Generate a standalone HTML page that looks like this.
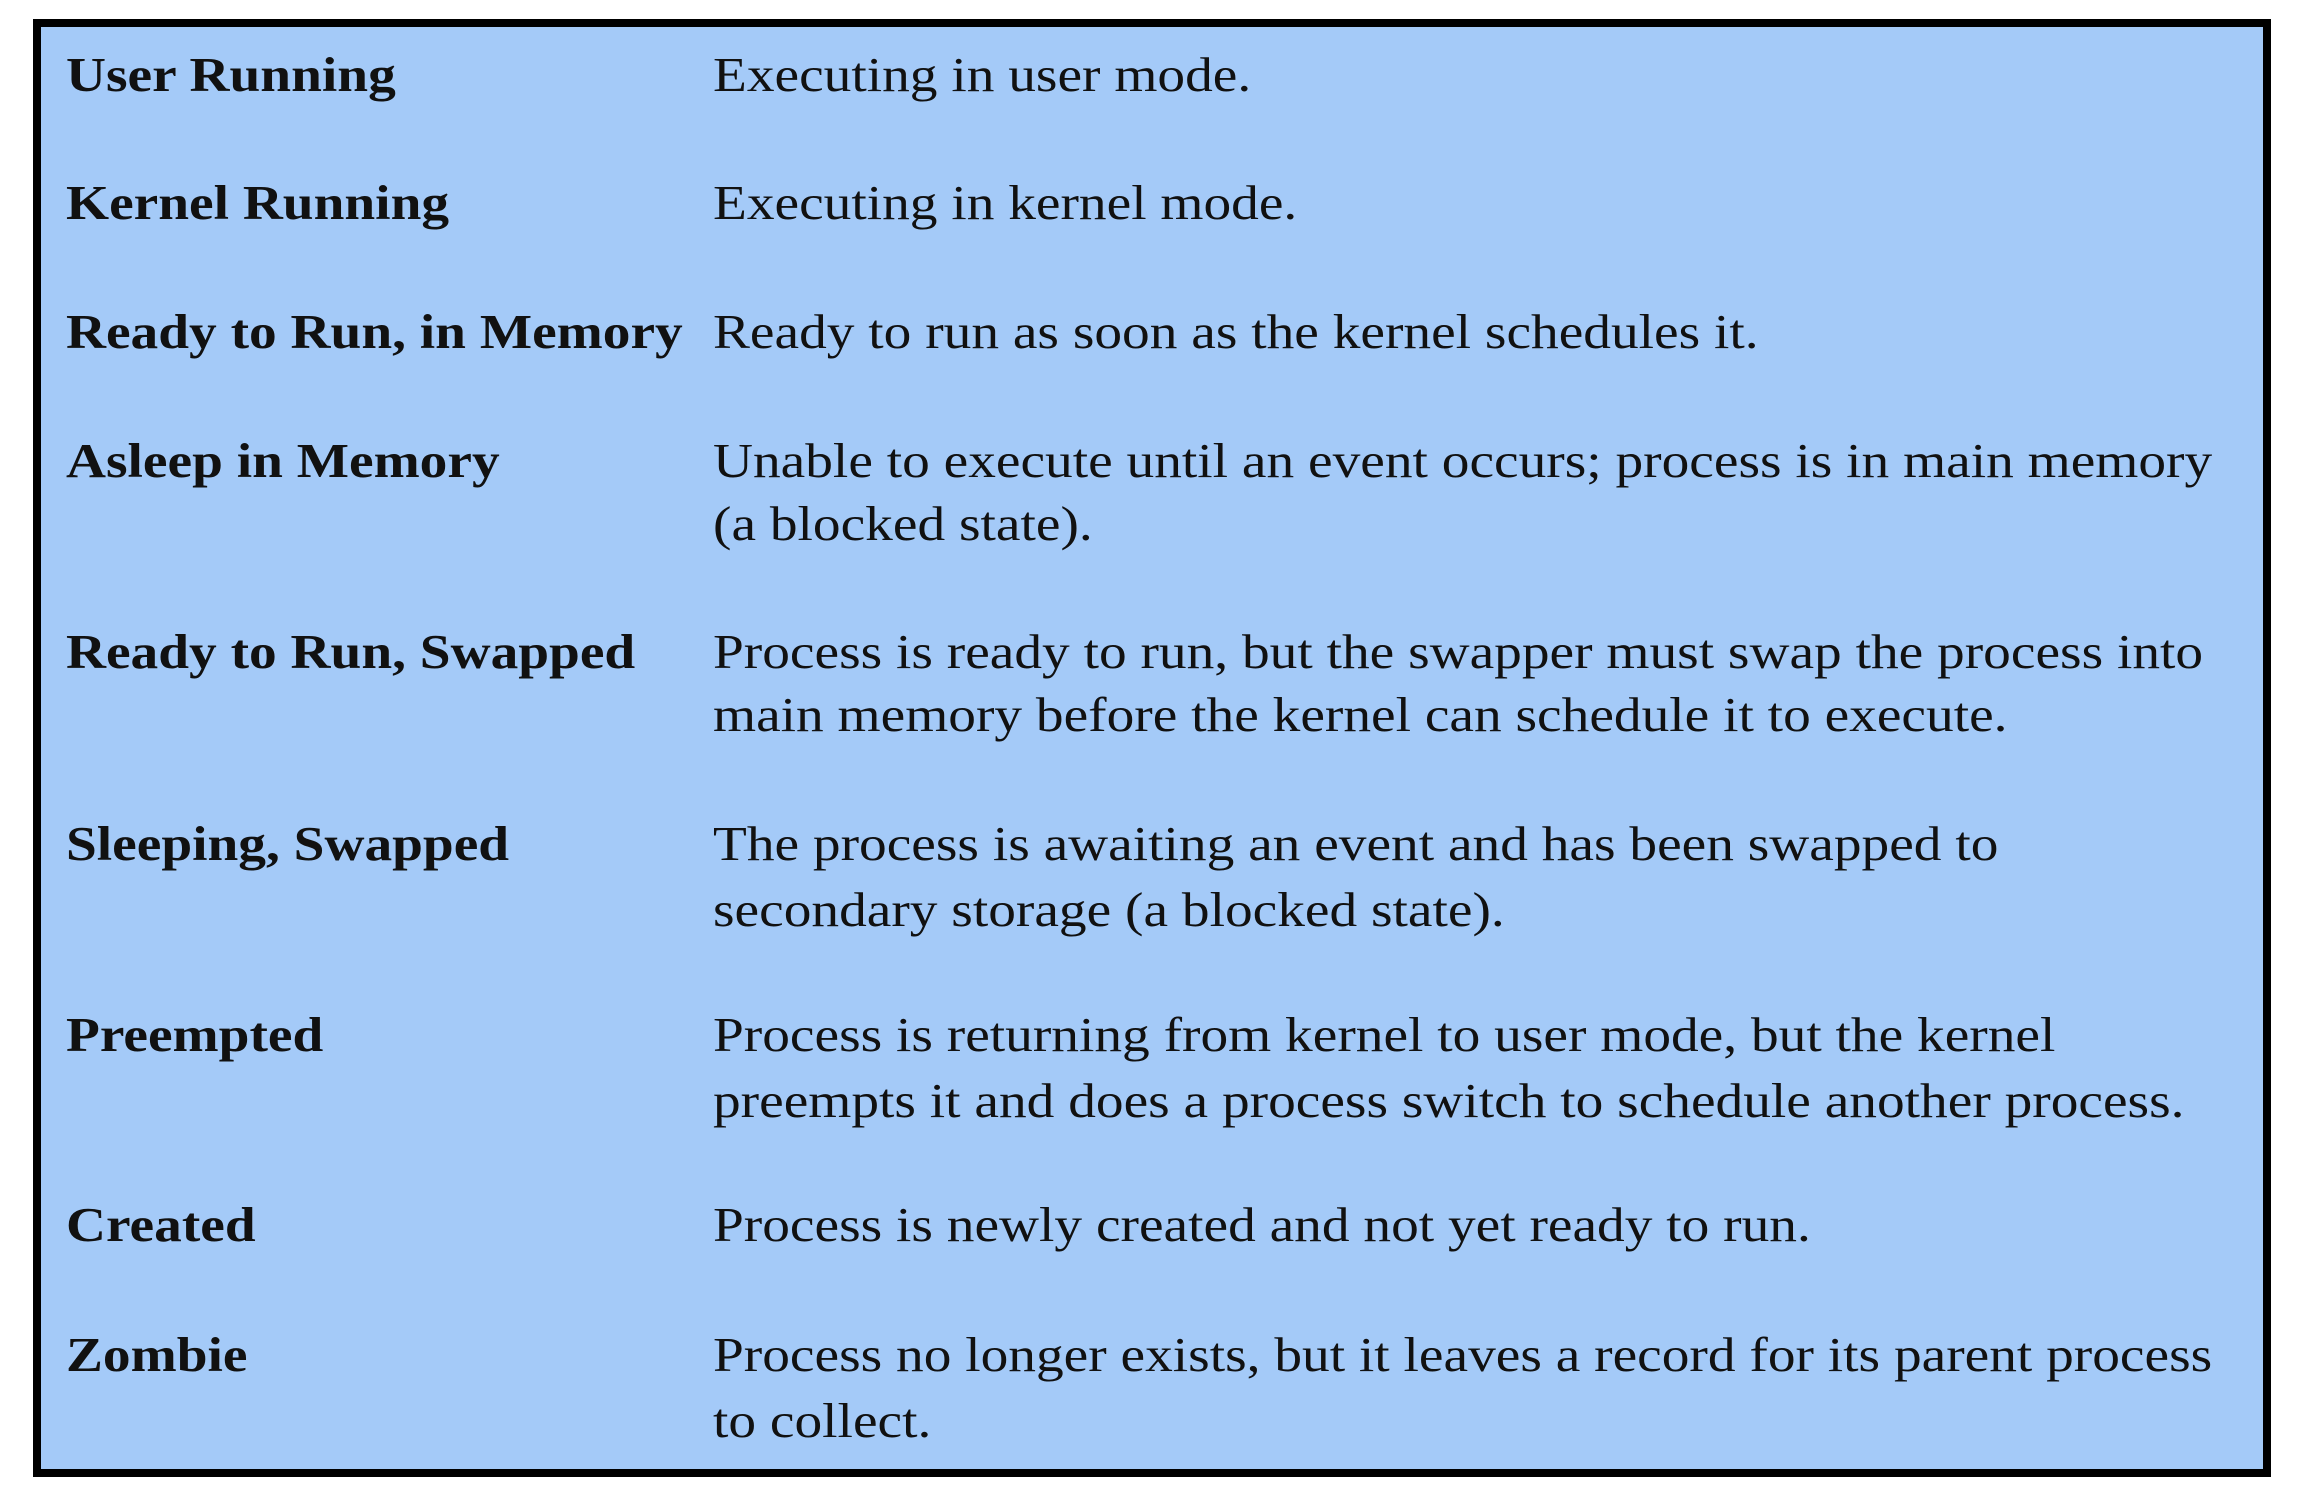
<!DOCTYPE html>
<html><head><meta charset="utf-8"><style>
html,body{margin:0;padding:0;background:#fff;width:2300px;height:1496px;overflow:hidden}
.box{position:absolute;left:33px;top:19px;width:2222px;height:1442px;border:8px solid #000;background:#a4caf8}
.t{position:absolute;font-family:"Liberation Serif",serif;font-size:49px;line-height:47px;color:#111;white-space:nowrap;transform:scaleX(1.13);transform-origin:0 0}
.b{font-weight:bold;left:66px}
.d{left:713px}
</style></head><body>
<div class="box"></div>
<div class="t b" style="top:51px">User Running</div>
<div class="t d" style="top:51px">Executing in user mode.</div>
<div class="t b" style="top:179px">Kernel Running</div>
<div class="t d" style="top:179px">Executing in kernel mode.</div>
<div class="t b" style="top:308px">Ready to Run, in Memory</div>
<div class="t d" style="top:308px">Ready to run as soon as the kernel schedules it.</div>
<div class="t b" style="top:437px">Asleep in Memory</div>
<div class="t d" style="top:437px">Unable to execute until an event occurs; process is in main memory</div>
<div class="t d" style="top:500px">(a blocked state).</div>
<div class="t b" style="top:628px">Ready to Run, Swapped</div>
<div class="t d" style="top:628px">Process is ready to run, but the swapper must swap the process into</div>
<div class="t d" style="top:691px">main memory before the kernel can schedule it to execute.</div>
<div class="t b" style="top:820px">Sleeping, Swapped</div>
<div class="t d" style="top:820px">The process is awaiting an event and has been swapped to</div>
<div class="t d" style="top:886px">secondary storage (a blocked state).</div>
<div class="t b" style="top:1011px">Preempted</div>
<div class="t d" style="top:1011px">Process is returning from kernel to user mode, but the kernel</div>
<div class="t d" style="top:1077px">preempts it and does a process switch to schedule another process.</div>
<div class="t b" style="top:1201px">Created</div>
<div class="t d" style="top:1201px">Process is newly created and not yet ready to run.</div>
<div class="t b" style="top:1331px">Zombie</div>
<div class="t d" style="top:1331px">Process no longer exists, but it leaves a record for its parent process</div>
<div class="t d" style="top:1397px">to collect.</div>
</body></html>
